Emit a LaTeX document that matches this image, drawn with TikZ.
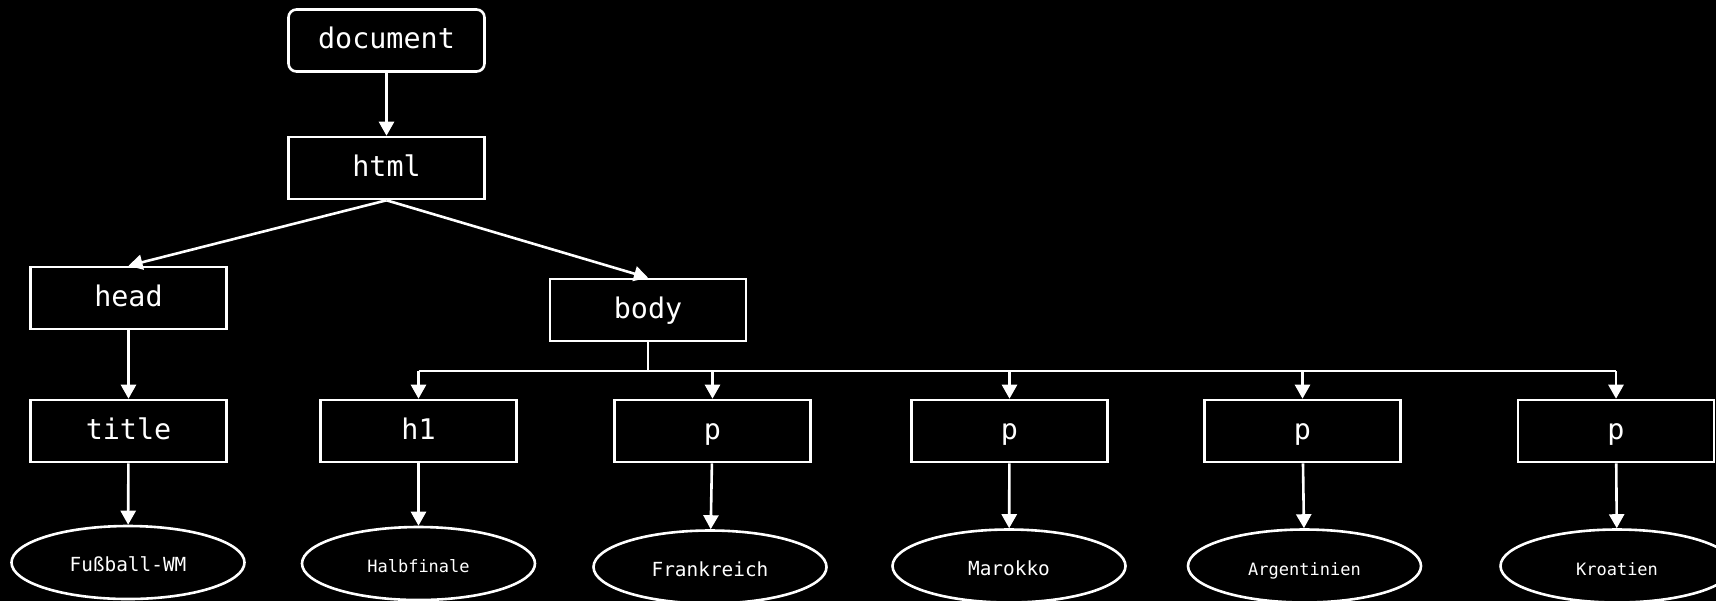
\documentclass[tikz,border=0pt]{standalone}
\usepackage{fontspec}
\setmonofont{DejaVu Sans Mono}
\usetikzlibrary{arrows.meta,shapes.geometric}

\begin{document}
\begin{tikzpicture}[x=0.5pt,y=-0.5pt,
        tag/.style={draw=white,line width=1.3pt,text=white,inner sep=0pt,
            font=\ttfamily\fontsize{14.2}{17}\selectfont,
            text height=0.82em,text depth=0pt,
            minimum width=98pt,minimum height=31pt},
        txt/.style={ellipse,draw=white,line width=1.3pt,text=white,inner sep=0pt,
            font=\ttfamily\fontsize{9.7}{12}\selectfont,
            text height=0.9em,text depth=0pt,
            minimum width=116.5pt,minimum height=36.5pt},
        txtsmall/.style={txt,font=\ttfamily\fontsize{8.5}{10}\selectfont},
        arr/.style={draw=white,line width=1.3pt,-{Triangle[length=7pt,width=7.5pt]}}]
            \fill[black] (0,0) rectangle (1716,601);
            \useasboundingbox (0,0) rectangle (1716,601);
            % tree
            \node[tag,rounded corners=4pt] (doc) at (386.5,40.5) {document};
            \node[tag] (html)  at (386.5,168) {html};
            \node[tag] (head)  at (128.5,298) {head};
            \node[tag] (body)  at (648,310)   {body};
            \node[tag] (title) at (128.5,431) {title};
            \node[tag] (h1)    at (418.5,431) {h1};
            \node[tag] (p1)    at (712.5,431) {p};
            \node[tag] (p2)    at (1009.5,431) {p};
            \node[tag] (p3)    at (1302.5,431) {p};
            \node[tag] (p4)    at (1616,431)  {p};
            % text nodes
            \node[txt]      (wm)   at (128,562.5)  {Fußball-WM};
            \node[txtsmall] (half) at (418.5,563.5) {Halbfinale};
            \node[txt]      (fra)  at (710,567)    {Frankreich};
            \node[txt]      (mar)  at (1009,566)   {Marokko};
            \node[txtsmall] (arg)  at (1304.5,566) {Argentinien};
            \node[txtsmall] (kro)  at (1617,566)   {Kroatien};
            \coordinate (bus) at (648,371);
            \draw[arr] (doc) -- (html);
            \draw[arr] (html.south) -- (head.north);
            \draw[arr] (html.south) -- (body.north);
            \draw[arr] (head) -- (title);
            \draw[draw=white,line width=1.3pt] (body.south) -- (bus);
            \draw[draw=white,line width=1.3pt] (bus -| h1) -- (bus -| p4);
            \foreach \n in {h1,p1,p2,p3,p4}
                \draw[arr] (bus -| \n) -- (\n);
            \draw[arr] (title) -- (wm);
            \draw[arr] (h1) -- (half);
            \draw[arr] (p1) -- (fra);
            \draw[arr] (p2) -- (mar);
            \draw[arr] (p3) -- (arg);
            \draw[arr] (p4) -- (kro);
        \end{tikzpicture}
\end{document}
